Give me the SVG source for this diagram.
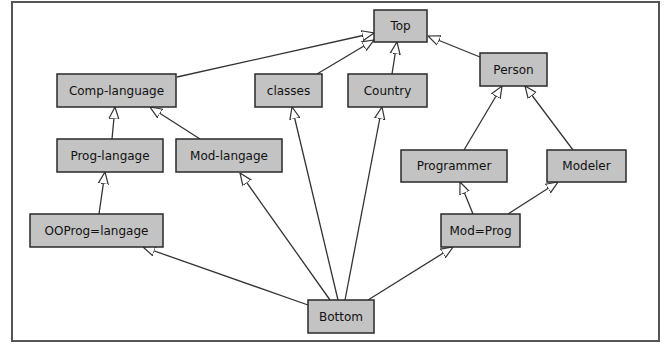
<svg xmlns="http://www.w3.org/2000/svg" width="665" height="345" viewBox="0 0 665 345">
<style>
.n rect{fill:#c3c3c3;stroke:#2a2a2a;stroke-width:1.5}
.n text{font-family:"DejaVu Sans",Verdana,sans-serif;font-size:12px;fill:#111;text-anchor:middle}
.e line{stroke:#333;stroke-width:1.3;marker-end:url(#tri)}
</style>
<defs>
<marker id="tri" viewBox="0 0 12 12" refX="12" refY="6" markerWidth="12" markerHeight="12" markerUnits="userSpaceOnUse" orient="auto">
<path d="M0,1 L12,6 L0,11 Z" fill="#fff" stroke="#333" stroke-width="1.2"/>
</marker>
</defs>
<rect x="12" y="2" width="647" height="339" fill="#fff" stroke="#555" stroke-width="2"/>
<g class="e">
<line x1="177" y1="77" x2="374" y2="33"/>
<line x1="317" y1="74" x2="374" y2="40"/>
<line x1="392" y1="74" x2="397" y2="42"/>
<line x1="480" y1="57" x2="428" y2="36"/>
<line x1="112" y1="139" x2="115" y2="107"/>
<line x1="200" y1="139" x2="150" y2="107"/>
<line x1="464" y1="150" x2="502" y2="86"/>
<line x1="573" y1="150" x2="525" y2="86"/>
<line x1="99" y1="214" x2="105" y2="172"/>
<line x1="473" y1="214" x2="460" y2="182"/>
<line x1="508" y1="214" x2="558" y2="182"/>
<line x1="308" y1="305" x2="143" y2="247"/>
<line x1="330" y1="300" x2="240" y2="173"/>
<line x1="338" y1="300" x2="292" y2="107"/>
<line x1="345" y1="300" x2="382" y2="107"/>
<line x1="368" y1="300" x2="453" y2="247"/>
</g>
<g id="top" class="n"><rect x="374" y="10" width="53" height="32"/><text x="400.5" y="30">Top</text></g>
<g id="comp-language" class="n"><rect x="57" y="74" width="119" height="33"/><text x="116.5" y="95">Comp-language</text></g>
<g id="classes" class="n"><rect x="255" y="74" width="67" height="33"/><text x="288.5" y="95">classes</text></g>
<g id="country" class="n"><rect x="348" y="74" width="79" height="33"/><text x="387.5" y="95">Country</text></g>
<g id="person" class="n"><rect x="480" y="53" width="67" height="33"/><text x="513.5" y="74">Person</text></g>
<g id="prog-langage" class="n"><rect x="57" y="139" width="106" height="33"/><text x="110" y="160">Prog-langage</text></g>
<g id="mod-langage" class="n"><rect x="176" y="139" width="106" height="33"/><text x="229" y="160">Mod-langage</text></g>
<g id="programmer" class="n"><rect x="401" y="150" width="106" height="32"/><text x="454" y="170">Programmer</text></g>
<g id="modeler" class="n"><rect x="547" y="150" width="79" height="32"/><text x="586.5" y="170">Modeler</text></g>
<g id="ooprog-langage" class="n"><rect x="30" y="214" width="133" height="33"/><text x="96.5" y="235">OOProg=langage</text></g>
<g id="mod-prog" class="n"><rect x="441" y="214" width="79" height="33"/><text x="480.5" y="235">Mod=Prog</text></g>
<g id="bottom" class="n"><rect x="308" y="300" width="66" height="33"/><text x="341" y="321">Bottom</text></g>
</svg>
